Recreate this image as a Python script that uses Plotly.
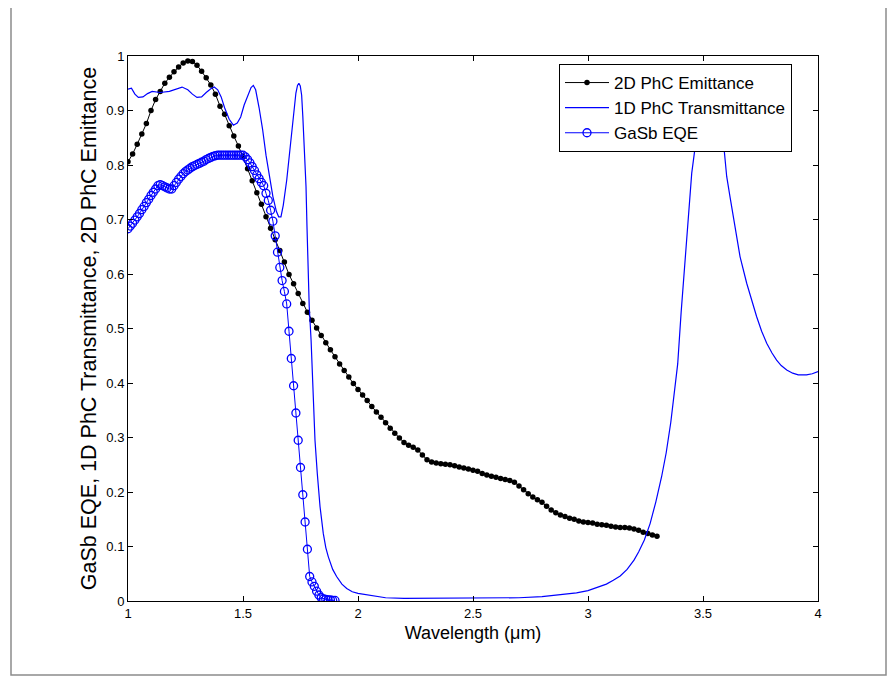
import plotly.graph_objects as go

# 2D PhC Emittance (black dots)
emit_x = [1.00, 1.02, 1.04, 1.06, 1.08, 1.10, 1.12, 1.14, 1.16, 1.18, 1.20, 1.22, 1.24, 1.26, 1.28,
          1.30, 1.32, 1.34, 1.36, 1.38, 1.40, 1.42, 1.44, 1.46, 1.48, 1.50, 1.52, 1.54, 1.56, 1.58,
          1.60, 1.62, 1.64, 1.66, 1.68, 1.70, 1.72, 1.74, 1.76, 1.78, 1.80, 1.82, 1.84, 1.86, 1.88,
          1.90, 1.92, 1.94, 1.96, 1.98, 2.00, 2.02, 2.04, 2.06, 2.08, 2.10, 2.12, 2.14, 2.16, 2.18,
          2.20, 2.22, 2.24, 2.26, 2.28, 2.30, 2.32, 2.34, 2.36, 2.38, 2.40, 2.42, 2.44, 2.46, 2.48,
          2.50, 2.52, 2.54, 2.56, 2.58, 2.60, 2.62, 2.64, 2.66, 2.68, 2.70, 2.72, 2.74, 2.76, 2.78,
          2.80, 2.82, 2.84, 2.86, 2.88, 2.90, 2.92, 2.94, 2.96, 2.98, 3.00, 3.02, 3.04, 3.06, 3.08,
          3.10, 3.12, 3.14, 3.16, 3.18, 3.20, 3.22, 3.24, 3.26, 3.28, 3.30]
emit_y = [0.806, 0.820, 0.838, 0.857, 0.876, 0.900, 0.920, 0.935, 0.950, 0.961, 0.971, 0.980, 0.987, 0.991, 0.990,
          0.983, 0.972, 0.960, 0.947, 0.930, 0.908, 0.893, 0.872, 0.853, 0.835, 0.815, 0.793, 0.771, 0.749, 0.728,
          0.705, 0.684, 0.663, 0.643, 0.622, 0.599, 0.582, 0.564, 0.546, 0.530, 0.515, 0.501, 0.487, 0.474, 0.461,
          0.448, 0.435, 0.423, 0.411, 0.399, 0.388, 0.378, 0.368, 0.357, 0.347, 0.337, 0.327, 0.317, 0.308, 0.299,
          0.291, 0.286, 0.282, 0.277, 0.268, 0.259, 0.255, 0.253, 0.252, 0.251, 0.250, 0.248, 0.246, 0.244, 0.242,
          0.240, 0.238, 0.234, 0.231, 0.229, 0.227, 0.225, 0.223, 0.221, 0.218, 0.211, 0.204, 0.197, 0.191, 0.186,
          0.181, 0.174, 0.167, 0.162, 0.158, 0.155, 0.152, 0.150, 0.147, 0.145, 0.144, 0.143, 0.141, 0.140, 0.139,
          0.137, 0.136, 0.135, 0.135, 0.134, 0.132, 0.130, 0.126, 0.124, 0.121, 0.119]

# 1D PhC Transmittance (blue line)
trans_x = [1.000, 1.015, 1.030, 1.045, 1.065, 1.085, 1.105, 1.140, 1.180, 1.210, 1.235, 1.260, 1.280, 1.300,
           1.320, 1.340, 1.360, 1.375, 1.390, 1.405, 1.420, 1.440, 1.458, 1.475, 1.490, 1.505, 1.520, 1.535,
           1.545, 1.555, 1.570, 1.585, 1.600, 1.615, 1.630, 1.645, 1.655, 1.665, 1.675, 1.690, 1.700, 1.712,
           1.722, 1.730, 1.737, 1.743, 1.749, 1.755, 1.760, 1.765, 1.770, 1.774, 1.778, 1.782, 1.788, 1.796,
           1.803, 1.813, 1.823, 1.835, 1.849, 1.860, 1.871, 1.890, 1.907, 1.930, 1.951, 1.975, 2.000, 2.050,
           2.100, 2.120, 2.200, 2.400, 2.600, 2.700, 2.800, 2.900, 2.950, 3.000, 3.050, 3.080, 3.110, 3.140,
           3.170, 3.200, 3.220, 3.245, 3.270, 3.295, 3.320, 3.340, 3.360, 3.375, 3.390, 3.405, 3.415, 3.425,
           3.436, 3.451, 3.470, 3.490, 3.510, 3.530, 3.550, 3.570, 3.588, 3.603, 3.618, 3.632, 3.661, 3.690,
           3.710, 3.733, 3.755, 3.777, 3.800, 3.820, 3.840, 3.864, 3.890, 3.914, 3.950, 3.975, 4.000]
trans_y = [0.939, 0.941, 0.930, 0.924, 0.925, 0.931, 0.935, 0.933, 0.935, 0.940, 0.943, 0.938, 0.930, 0.924,
           0.925, 0.933, 0.940, 0.943, 0.938, 0.925, 0.905, 0.884, 0.873, 0.877, 0.888, 0.910, 0.928, 0.942,
           0.946, 0.938, 0.905, 0.866, 0.818, 0.777, 0.742, 0.715, 0.705, 0.705, 0.726, 0.772, 0.815, 0.858,
           0.900, 0.932, 0.946, 0.950, 0.945, 0.928, 0.890, 0.846, 0.800, 0.760, 0.690, 0.626, 0.540, 0.479,
           0.387, 0.295, 0.234, 0.173, 0.124, 0.098, 0.081, 0.058, 0.045, 0.031, 0.023, 0.017, 0.014, 0.011,
           0.008, 0.006, 0.005, 0.005, 0.005, 0.006, 0.008, 0.012, 0.015, 0.019, 0.026, 0.031, 0.038, 0.046,
           0.058, 0.075, 0.090, 0.112, 0.142, 0.182, 0.228, 0.272, 0.328, 0.380, 0.435, 0.530, 0.585, 0.645,
           0.705, 0.785, 0.846, 0.900, 0.940, 0.960, 0.955, 0.920, 0.846, 0.779, 0.740, 0.705, 0.632, 0.583,
           0.553, 0.522, 0.495, 0.473, 0.455, 0.442, 0.432, 0.424, 0.418, 0.415, 0.415, 0.417, 0.421]

# GaSb EQE (blue circles)
eqe_x = [1.00, 1.01, 1.02, 1.03, 1.04, 1.05, 1.06, 1.07, 1.08, 1.09, 1.10, 1.11, 1.12, 1.13, 1.14,
         1.15, 1.16, 1.17, 1.18, 1.19, 1.20, 1.21, 1.22, 1.23, 1.24, 1.25, 1.26, 1.27, 1.28, 1.29,
         1.30, 1.31, 1.32, 1.33, 1.34, 1.35, 1.36, 1.37, 1.38, 1.39, 1.40, 1.41, 1.42, 1.43, 1.44,
         1.45, 1.46, 1.47, 1.48, 1.49, 1.50, 1.51, 1.52, 1.53, 1.54, 1.55, 1.56, 1.57, 1.58, 1.59,
         1.60, 1.61, 1.62, 1.63, 1.64, 1.65, 1.66, 1.67, 1.68, 1.69, 1.70, 1.71, 1.72, 1.73, 1.74,
         1.75, 1.76, 1.77, 1.78, 1.79, 1.80, 1.81, 1.82, 1.83, 1.84, 1.85, 1.86, 1.87, 1.88, 1.89, 1.90]
eqe_y = [0.683, 0.688, 0.693, 0.699, 0.705, 0.711, 0.718, 0.724, 0.731, 0.737, 0.744, 0.750, 0.756, 0.762, 0.764,
         0.762, 0.760, 0.758, 0.756, 0.756, 0.762, 0.768, 0.774, 0.779, 0.784, 0.788, 0.791, 0.794, 0.797, 0.799,
         0.801, 0.803, 0.805, 0.807, 0.810, 0.812, 0.814, 0.816, 0.817, 0.818, 0.818, 0.818, 0.818, 0.818, 0.818,
         0.818, 0.818, 0.818, 0.818, 0.818, 0.818, 0.815, 0.810, 0.804, 0.797, 0.790, 0.782, 0.775, 0.768, 0.762,
         0.748, 0.735, 0.717, 0.697, 0.670, 0.640, 0.612, 0.588, 0.568, 0.545, 0.495, 0.445, 0.395, 0.345, 0.295,
         0.245, 0.195, 0.145, 0.095, 0.045, 0.035, 0.027, 0.018, 0.011, 0.006, 0.004, 0.003, 0.002, 0.002, 0.001, 0.001]

x_ticks = [1, 1.5, 2, 2.5, 3, 3.5, 4]
y_ticks = [0, 0.1, 0.2, 0.3, 0.4, 0.5, 0.6, 0.7, 0.8, 0.9, 1]

FONT = "Liberation Sans, Arial, Helvetica, sans-serif"

fig = go.Figure()
fig.add_trace(go.Scatter(
    x=emit_x, y=emit_y, mode="lines+markers", name="2D PhC Emittance",
    line=dict(color="black", width=1),
    marker=dict(symbol="circle", size=5.5, color="black"),
))
fig.add_trace(go.Scatter(
    x=trans_x, y=trans_y, mode="lines", name="1D PhC Transmittance",
    line=dict(color="#0000ff", width=1.2),
))
fig.add_trace(go.Scatter(
    x=eqe_x, y=eqe_y, mode="lines+markers", name="GaSb EQE",
    line=dict(color="#0000ff", width=1),
    marker=dict(symbol="circle-open", size=8, color="#0000ff", line=dict(width=1.3)),
))

# outer figure frame
fig.add_shape(type="rect", xref="paper", yref="paper",
              x0=(11 - 128) / 690, x1=(886 - 128) / 690,
              y0=(601 - 675) / 545, y1=(601 - 5) / 545,
              line=dict(color="#8c8c8c", width=1.5), layer="below")

fig.update_layout(
    width=896, height=676,
    margin=dict(l=120, r=86, t=48, b=83),
    paper_bgcolor="white", plot_bgcolor="white",
    font=dict(family=FONT, size=13, color="black"),
    showlegend=True,
    legend=dict(
        x=(559 - 128) / 690, y=(601 - 64) / 545, xanchor="left", yanchor="top",
        bgcolor="white", bordercolor="black", borderwidth=1,
        font=dict(family=FONT, size=17, color="black"),
        tracegroupgap=0, itemwidth=44,
    ),
    xaxis=dict(
        range=[1, 4], tickvals=x_ticks, ticktext=[str(v) for v in x_ticks],
        showgrid=False, zeroline=False,
        showline=True, linecolor="black", linewidth=1, mirror="ticks",
        ticks="inside", ticklen=5, tickcolor="black",
        tickfont=dict(family=FONT, size=13),
        title=dict(text="Wavelength (\u03bcm)", font=dict(family=FONT, size=18), standoff=6),
    ),
    yaxis=dict(
        range=[0, 1], tickvals=y_ticks, ticktext=[str(v) for v in y_ticks],
        showgrid=False, zeroline=False,
        showline=True, linecolor="black", linewidth=1, mirror="ticks",
        ticks="inside", ticklen=5, tickcolor="black",
        tickfont=dict(family=FONT, size=13),
        title=dict(text="GaSb EQE, 1D PhC Transmittance, 2D PhC Emittance",
                   font=dict(family=FONT, size=21.5), standoff=3),
    ),
)

fig.write_html("out.html")
